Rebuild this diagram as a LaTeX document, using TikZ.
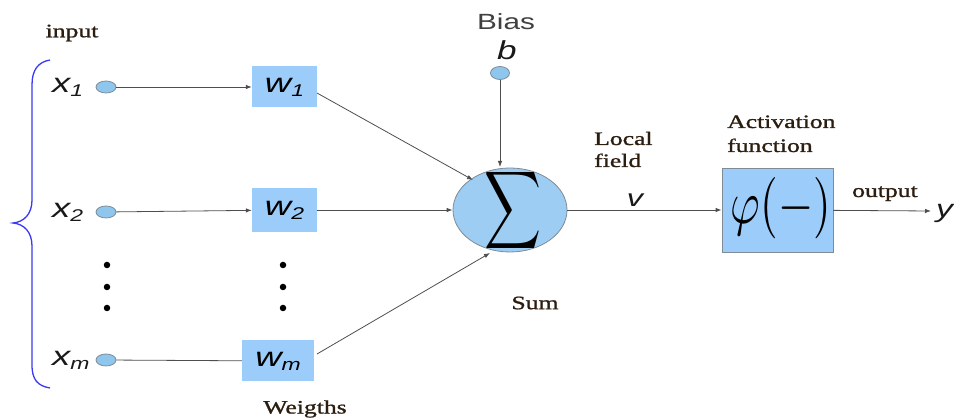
\documentclass[tikz,border=0pt]{standalone}
\usepackage{fontspec}
\usepackage{graphicx}
\setmainfont{Liberation Serif}
\setsansfont{Liberation Sans}
\newfontfamily\heavyserif[FakeBold=1]{Liberation Serif}
\usetikzlibrary{arrows.meta,shapes.geometric}
\definecolor{boxblue}{HTML}{9CCCFA}
\definecolor{sumblue}{HTML}{9DCDF2}
\definecolor{inblue}{HTML}{8FC6EE}
\definecolor{edgegray}{HTML}{7F8C96}
\definecolor{linegray}{HTML}{4E4E4E}
\definecolor{txtbrown}{HTML}{2B1D10}
\definecolor{bracecol}{HTML}{3A3AF0}
\newcommand\stretchx[1]{\scalebox{1.35}[1]{#1}}
\newcommand\fs[1]{\fontsize{#1}{#1}\selectfont}
\tikzset{
  serif/.style={font=\heavyserif\fs{19}, text=txtbrown, inner sep=0pt},
  sanslab/.style={font=\sffamily\itshape\fs{27}, text=black!90, inner sep=0pt},
  wbox/.style={fill=boxblue, inner sep=0pt, minimum height=41pt},
  incirc/.style={ellipse, fill=inblue, draw=edgegray, line width=0.8pt, minimum width=20pt, minimum height=12pt, inner sep=0pt},
  conn/.style={draw=linegray, line width=0.8pt, -{Latex[length=6pt,width=4.5pt]}},
  plain/.style={draw=linegray, line width=0.8pt},
  dotn/.style={circle, fill=black, inner sep=0pt, minimum size=6.5pt},
}
\begin{document}
\begin{tikzpicture}[x=1pt,y=-1pt]
\useasboundingbox (0,0) rectangle (954,419);
% labels
\node[serif] (input) at (72,33) {\stretchx{input}};
\node[serif] (weig) at (305,409) {\stretchx{Weigths}};
\node[serif] (sum) at (535,303) {\stretchx{Sum}};
\node[serif, anchor=base west] (loc1) at (594,145) {\stretchx{Local}};
\node[serif, anchor=base west] (loc2) at (594,167) {\stretchx{field}};
\node[serif, anchor=base west] (act1) at (727,128) {\stretchx{Activation}};
\node[serif, anchor=base west] (act2) at (727,152) {\stretchx{function}};
\node[serif, anchor=base west] (outl) at (852,197) {\stretchx{output}};
% brace
\draw[bracecol, line width=1.3pt] (50,60) .. controls (38,62) and (32,70) .. (32,85)
  -- (32,200) .. controls (32,214) and (24,222) .. (13,223)
  .. controls (24,224) and (32,232) .. (32,246)
  -- (32,365) .. controls (32,380) and (38,386) .. (50,388);
% inputs
\node[sanslab, anchor=base west] (x1) at (52,93) {\stretchx{x\raisebox{-4pt}{\fs{17}1}}};
\node[sanslab, anchor=base west] (x2) at (52,218) {\stretchx{x\raisebox{-4pt}{\fs{17}2}}};
\node[sanslab, anchor=base west] (xm) at (52,366) {\stretchx{x\raisebox{-4pt}{\fs{17}m}}};
\node[incirc] (c1) at (106,87) {};
\node[incirc] (c2) at (106,212) {};
\node[incirc] (cm) at (106,360) {};
% weight boxes
\node[wbox, minimum width=65pt] (w1) at (284.5,87) {\sffamily\itshape\stretchx{\fs{27}w\raisebox{-4pt}{\fs{17}1}}};
\node[wbox, minimum width=65pt, minimum height=44pt] (w2) at (284.5,210) {\sffamily\itshape\stretchx{\fs{27}w\raisebox{-4pt}{\fs{17}2}}};
\node[wbox, minimum width=72pt] (wm) at (278,361) {\sffamily\itshape\stretchx{\fs{27}w\raisebox{-4pt}{\fs{17}m}}};
% dots
\foreach \yy [count=\i] in {265,287,308} {
  \node[dotn] (dl\i) at (107,\yy) {};
  \node[dotn] (dr\i) at (283,\yy) {};
}
% sum
\node[ellipse, fill=sumblue, draw=edgegray, line width=0.8pt, minimum width=114pt, minimum height=84pt, inner sep=0pt] (S) at (510,210) {};
\node[inner sep=0pt] (sig) at (513,211) {\resizebox{57pt}{57pt}{$\displaystyle\sum$}};
% bias
\node[font=\sffamily\fs{22}, text=black!75, inner sep=0pt] (bias) at (506,22) {\stretchx{Bias}};
\node[font=\sffamily\itshape\fs{26}, text=black!90, inner sep=0pt] (b) at (507,50) {\stretchx{b}};
\node[incirc, minimum width=19pt, minimum height=13pt] (cb) at (500,73) {};
% activation
\node[fill=boxblue, draw=edgegray, line width=0.8pt, minimum width=111pt, minimum height=84pt, inner sep=0pt] (A) at (777.5,210) {};
\node[inner sep=0pt] (phi) at (781,208) {\resizebox{100pt}{46pt}{$\varphi(-)$}};
% local field v and output y
\node[font=\sffamily\itshape\fs{24}, text=black!90, inner sep=0pt] (v) at (635,200) {\stretchx{v}};
\node[font=\sffamily\itshape\fs{25}, text=black!90, inner sep=0pt, anchor=west] (y) at (936,213) {\stretchx{y}};
\coordinate (yend) at (931,211);
% connectors
\draw[conn] (c1) -- (w1);
\draw[conn] (c2) -- (w2);
\draw[plain] (cm) -- (wm);
\draw[conn] (317,93) -- (473,180);
\draw[conn] (w2) -- (S);
\draw[conn] (317,354) -- (490,253);
\draw[conn] (cb) -- (500,167);
\draw[conn] (S) -- (A);
\draw[conn] (A) -- (yend);
\end{tikzpicture}
\end{document}
